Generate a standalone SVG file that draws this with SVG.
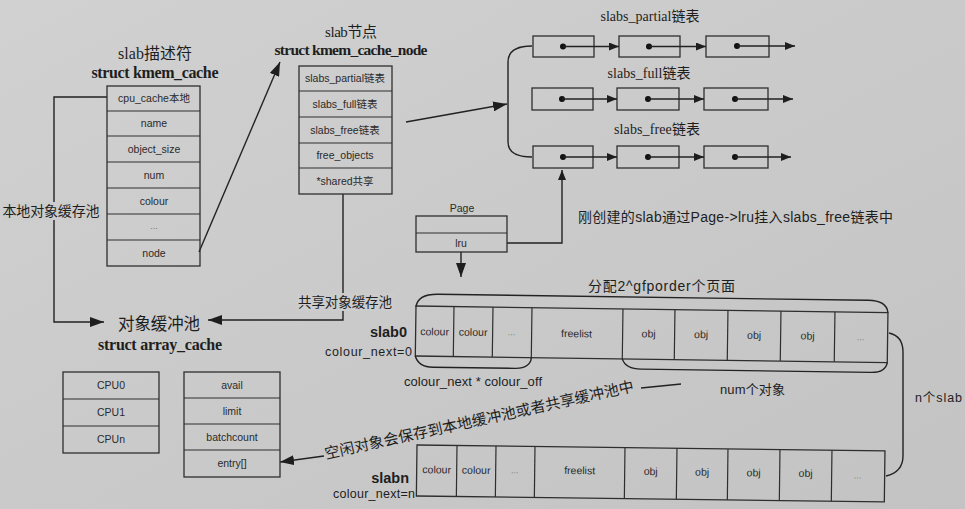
<svg xmlns="http://www.w3.org/2000/svg" width="965" height="509" viewBox="0 0 965 509">
<defs>
<linearGradient id="bg" x1="0" y1="0" x2="1" y2="1">
<stop offset="0" stop-color="#d1d1d1"/>
<stop offset="1" stop-color="#c3c3c3"/>
</linearGradient>
<marker id="ah" viewBox="0 0 10 8" refX="10" refY="4" markerWidth="10" markerHeight="8" markerUnits="userSpaceOnUse" orient="auto"><path d="M0,0 L10,4 L0,8 z" fill="#1e1e1e"/></marker>
<marker id="ahL" viewBox="0 0 14 10" refX="14" refY="5" markerWidth="14" markerHeight="10" markerUnits="userSpaceOnUse" orient="auto"><path d="M0,0 L14,5 L0,10 z" fill="#1e1e1e"/></marker>
<style>
.box{fill:none;stroke:#2e2e2e;stroke-width:1.3}
.div{stroke:#2e2e2e;stroke-width:1.2}
.ln{fill:none;stroke:#222;stroke-width:1.4}
.bt{font-family:"Liberation Sans","Noto Sans CJK SC",sans-serif;font-size:10.5px;fill:#2a2a2a;text-anchor:middle}
.dots{font-family:"Liberation Sans",sans-serif;font-size:9px;fill:#777;text-anchor:middle}
.ser{font-family:"Liberation Serif","Noto Sans CJK SC",serif;fill:#1e1e1e;text-anchor:middle}
.serl{font-family:"Liberation Serif","Noto Sans CJK SC",serif;fill:#1e1e1e;text-anchor:start}
.sans{font-family:"Liberation Sans","Noto Sans CJK SC",sans-serif;fill:#1e1e1e}
.dot{fill:#111}
.gap{fill:#cccccc}
</style>
</defs>
<rect width="965" height="509" fill="url(#bg)"/>

<g id="connectors">
<path class="ln" d="M107 97 L54 97 L54 322 L104 322" marker-end="url(#ahL)"/>
<path class="ln" d="M199 252 L280 62" marker-end="url(#ahL)"/>
<path class="ln" d="M343 194 L343 320 L208 320" marker-end="url(#ahL)"/>
<path class="ln" d="M406 122 L507 104" marker-end="url(#ahL)"/>
<path class="ln" d="M532 46 Q508 46 508 62 L508 142 Q508 157 532 157"/>
<path class="ln" d="M507 243 L562 243 L562 170" marker-end="url(#ah)"/>
<path class="ln" d="M461 252 L461 277" marker-end="url(#ahL)"/>
<path class="ln" d="M324 456 L280 462" marker-end="url(#ahL)"/>
<path class="ln" d="M641 388 L681 384"/>
<path class="ln" d="M889 333 Q903 336 903 352 L903 456 Q903 472 886 476"/>
</g>

<g id="kmem_cache">
<text class="ser" x="155" y="59" font-size="16" textLength="74">slab描述符</text>
<text class="ser" x="155" y="78" font-size="16" textLength="127" font-weight="bold">struct kmem_cache</text>
<rect class="box" x="107" y="86" width="93" height="180"/>
<line class="div" x1="107" y1="111" x2="200" y2="111"/>
<line class="div" x1="107" y1="136" x2="200" y2="136"/>
<line class="div" x1="107" y1="162" x2="200" y2="162"/>
<line class="div" x1="107" y1="188" x2="200" y2="188"/>
<line class="div" x1="107" y1="214" x2="200" y2="214"/>
<line class="div" x1="107" y1="240" x2="200" y2="240"/>
<text class="bt" x="154" y="102">cpu_cache本地</text>
<text class="bt" x="154" y="127">name</text>
<text class="bt" x="154" y="153">object_size</text>
<text class="bt" x="154" y="179">num</text>
<text class="bt" x="154" y="205">colour</text>
<text class="dots" x="154" y="229">...</text>
<text class="bt" x="154" y="257">node</text>
</g>

<g id="local_pool_label">
<rect class="gap" x="2" y="202" width="100" height="18"/>
<text class="ser" x="51" y="216" font-size="14" textLength="97">本地对象缓存池</text>
</g>

<g id="kmem_cache_node">
<text class="ser" x="351" y="37" font-size="15" textLength="52">slab节点</text>
<text class="ser" x="351" y="55" font-size="15.5" textLength="153" font-weight="bold">struct kmem_cache_node</text>
<rect class="box" x="299" y="66" width="93" height="128"/>
<line class="div" x1="299" y1="91" x2="392" y2="91"/>
<line class="div" x1="299" y1="117" x2="392" y2="117"/>
<line class="div" x1="299" y1="143" x2="392" y2="143"/>
<line class="div" x1="299" y1="168" x2="392" y2="168"/>
<text class="bt" x="345" y="82">slabs_partial链表</text>
<text class="bt" x="345" y="108">slabs_full链表</text>
<text class="bt" x="345" y="134">slabs_free链表</text>
<text class="bt" x="345" y="159">free_objects</text>
<text class="bt" x="345" y="185">*shared共享</text>
</g>

<g id="shared_pool_label">
<rect class="gap" x="297" y="293" width="97" height="18"/>
<text class="ser" x="345" y="307" font-size="13.5" textLength="94">共享对象缓存池</text>
</g>

<g id="array_cache_title">
<text class="ser" x="159" y="330" font-size="16.5" textLength="82">对象缓冲池</text>
<text class="ser" x="160" y="350" font-size="16" textLength="124" font-weight="bold">struct array_cache</text>
</g>

<g id="slabs_partial_list">
<text class="ser" x="650" y="21" font-size="14" textLength="99">slabs_partial链表</text>
<rect class="box" x="533" y="36" width="61" height="21"/>
<rect class="box" x="619" y="36" width="61" height="21"/>
<rect class="box" x="706" y="36" width="63" height="21"/>
<circle class="dot" cx="563" cy="46.5" r="3"/>
<circle class="dot" cx="649" cy="46.5" r="3"/>
<circle class="dot" cx="737" cy="46" r="3"/>
<path class="ln" d="M563 46.5 L619 46.5" marker-end="url(#ah)"/>
<path class="ln" d="M649 46.5 L706 46.5" marker-end="url(#ah)"/>
<path class="ln" d="M737 46 L795 46" marker-end="url(#ah)"/>
</g>

<g id="slabs_full_list">
<text class="ser" x="649" y="78" font-size="14" textLength="83">slabs_full链表</text>
<rect class="box" x="532" y="88" width="61" height="22"/>
<rect class="box" x="617" y="88" width="62" height="22"/>
<rect class="box" x="704" y="88" width="64" height="22"/>
<circle class="dot" cx="562" cy="99" r="3"/>
<circle class="dot" cx="648" cy="99" r="3"/>
<circle class="dot" cx="735" cy="99" r="3"/>
<path class="ln" d="M562 99 L617 99" marker-end="url(#ah)"/>
<path class="ln" d="M648 99 L704 99" marker-end="url(#ah)"/>
<path class="ln" d="M735 99 L793 99" marker-end="url(#ah)"/>
</g>

<g id="slabs_free_list">
<text class="ser" x="657" y="134" font-size="14" textLength="86">slabs_free链表</text>
<rect class="box" x="533" y="146" width="60" height="22"/>
<rect class="box" x="617" y="146" width="62" height="22"/>
<rect class="box" x="704" y="146" width="64" height="22"/>
<circle class="dot" cx="563" cy="157" r="3"/>
<circle class="dot" cx="648" cy="157" r="3"/>
<circle class="dot" cx="735" cy="157" r="3"/>
<path class="ln" d="M563 157 L617 157" marker-end="url(#ah)"/>
<path class="ln" d="M648 157 L704 157" marker-end="url(#ah)"/>
<path class="ln" d="M735 157 L791 157" marker-end="url(#ah)"/>
</g>

<g id="page">
<text class="bt" x="462" y="212" font-size="11">Page</text>
<rect class="box" x="416" y="216" width="91" height="36"/>
<line class="div" x1="416" y1="233" x2="507" y2="233"/>
<text class="bt" x="461" y="247">lru</text>
</g>

<g id="lru_note">
<text class="sans" x="578" y="222" font-size="14" textLength="315">刚创建的slab通过Page-&gt;lru挂入slabs_free链表中</text>
</g>

<g id="slab0">
<text class="sans" x="588" y="291" font-size="14" textLength="147">分配2^gfporder个页面</text>
<text class="sans" x="407" y="337" font-size="14.5" font-weight="bold" text-anchor="end">slab0</text>
<text class="sans" x="412" y="356" font-size="12.5" text-anchor="end" textLength="87">colour_next=0</text>
<g transform="rotate(0.8 416 306)">
<path class="ln" d="M416 307 C417 298 424 294 438 294 L868 294 C880 294 887 298 888 306"/>
<rect class="box" x="416" y="306" width="472" height="50"/>
<line class="div" x1="454" y1="306" x2="454" y2="356"/>
<line class="div" x1="493" y1="306" x2="493" y2="356"/>
<line class="div" x1="532" y1="306" x2="532" y2="356"/>
<line class="div" x1="623" y1="306" x2="623" y2="356"/>
<line class="div" x1="675" y1="306" x2="675" y2="356"/>
<line class="div" x1="728" y1="306" x2="728" y2="356"/>
<line class="div" x1="781" y1="306" x2="781" y2="356"/>
<line class="div" x1="835" y1="306" x2="835" y2="356"/>
<path class="ln" d="M416 356 C418 363 424 367 434 367 L516 367 C527 367 532 362 532 356"/>
<path class="ln" d="M623 356 C625 362 631 366 642 366 L872 366 C882 366 887 362 888 356"/>
<text class="bt" x="435" y="335">colour</text>
<text class="bt" x="473.5" y="335">colour</text>
<text class="dots" x="512" y="334">...</text>
<text class="bt" x="577" y="335">freelist</text>
<text class="bt" x="649" y="334">obj</text>
<text class="bt" x="701.5" y="334">obj</text>
<text class="bt" x="754.5" y="334">obj</text>
<text class="bt" x="808" y="334">obj</text>
<text class="dots" x="861" y="334">...</text>
</g>
<text class="sans" x="404" y="386" font-size="13" textLength="138">colour_next * colour_off</text>
<text class="sans" x="720" y="394" font-size="13" textLength="65">num个对象</text>
<text class="sans" x="915" y="402" font-size="12.5" textLength="47">n个slab</text>
</g>

<g id="free_note">
<text class="serl" x="326" y="459" font-size="15" textLength="316" transform="rotate(-12.4 326 459)">空闲对象会保存到本地缓冲池或者共享缓冲池中</text>
</g>

<g id="slabn">
<text class="sans" x="409" y="483" font-size="14.5" font-weight="bold" text-anchor="end">slabn</text>
<text class="sans" x="415" y="498" font-size="12.5" text-anchor="end" textLength="82">colour_next=n</text>
<g transform="rotate(0.72 417 445)">
<rect class="box" x="417" y="445" width="468" height="51"/>
<line class="div" x1="457" y1="445" x2="457" y2="496"/>
<line class="div" x1="496" y1="445" x2="496" y2="496"/>
<line class="div" x1="535" y1="445" x2="535" y2="496"/>
<line class="div" x1="625" y1="445" x2="625" y2="496"/>
<line class="div" x1="677" y1="445" x2="677" y2="496"/>
<line class="div" x1="728" y1="445" x2="728" y2="496"/>
<line class="div" x1="780" y1="445" x2="780" y2="496"/>
<line class="div" x1="832" y1="445" x2="832" y2="496"/>
<text class="bt" x="437" y="473">colour</text>
<text class="bt" x="476.5" y="473">colour</text>
<text class="dots" x="515" y="472">...</text>
<text class="bt" x="580" y="472">freelist</text>
<text class="bt" x="651" y="472">obj</text>
<text class="bt" x="702.5" y="472">obj</text>
<text class="bt" x="754" y="472">obj</text>
<text class="bt" x="806" y="472">obj</text>
<text class="dots" x="858" y="473">...</text>
</g>
</g>

<g id="cpu_array">
<rect class="box" x="63" y="372" width="96" height="81"/>
<line class="div" x1="63" y1="399" x2="159" y2="399" stroke-width="2"/>
<line class="div" x1="63" y1="426" x2="159" y2="426" stroke-width="2"/>
<text class="bt" x="111" y="389">CPU0</text>
<text class="bt" x="111" y="416">CPU1</text>
<text class="bt" x="111" y="443">CPUn</text>
</g>

<g id="array_cache">
<rect class="box" x="184" y="372" width="96" height="105"/>
<line class="div" x1="184" y1="398" x2="280" y2="398"/>
<line class="div" x1="184" y1="424" x2="280" y2="424"/>
<line class="div" x1="184" y1="450" x2="280" y2="450"/>
<text class="bt" x="232" y="389">avail</text>
<text class="bt" x="232" y="415">limit</text>
<text class="bt" x="232" y="441">batchcount</text>
<text class="bt" x="232" y="467">entry[]</text>
</g>
</svg>
